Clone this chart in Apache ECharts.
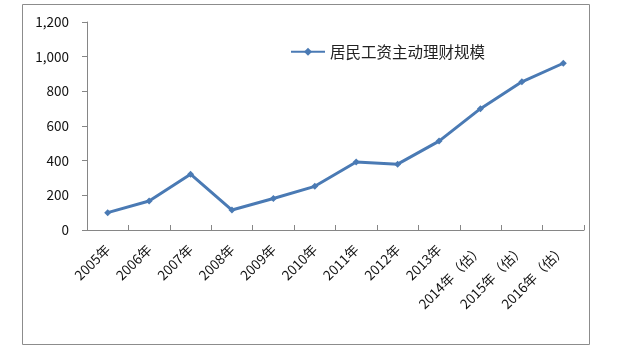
<!DOCTYPE html>
<html><head><meta charset="utf-8">
<script src="https://cdn.jsdelivr.net/npm/echarts@6/dist/echarts.min.js"></script>
<style>html,body{margin:0;padding:0;background:#fff}#c{width:640px;height:355px}</style>
</head><body><div id="c"></div>
<script>
var categories = ['2005年','2006年','2007年','2008年','2009年','2010年','2011年','2012年','2013年','2014年（估）','2015年（估）','2016年（估）'];
var values = [100, 167, 322, 115, 182, 252, 392, 380, 513, 700, 855, 962];
var seriesName = '居民工资主动理财规模';
var yTicks = [0, 200, 400, 600, 800, 1000, 1200];

var chart = echarts.init(document.getElementById('c'), null, {renderer:'canvas'});
var font = '"Noto Sans CJK SC", "Open Sans", sans-serif';
chart.setOption({
  animation: false,
  graphic: [{type:'rect', shape:{x:22.5,y:4.5,width:567,height:340}, style:{fill:'none', stroke:'#8c8c8c', lineWidth:1}, silent:true}],
  grid: {left:87, top:22, right:56, bottom:125, containLabel:false},
  legend: {
    data: [seriesName], left: 285, top: 39, itemWidth: 34, itemHeight: 10, itemGap: 2,
    textStyle: {fontSize: 15.5, color: '#222', fontFamily: font}
  },
  xAxis: {
    type: 'category', data: categories, boundaryGap: true,
    axisLine: {lineStyle: {color: '#868686', width: 1}},
    axisTick: {show: true, alignWithLabel: false, length: 5, inside: true, lineStyle: {color: '#868686'}},
    axisLabel: {rotate: 45, interval: 0, fontSize: 13.5, color: '#111', fontFamily: font, margin: 17}
  },
  yAxis: {
    type: 'value', min: yTicks[0], max: yTicks[yTicks.length-1], interval: 200,
    axisLine: {show: true, lineStyle: {color: '#868686', width: 1}},
    axisTick: {show: true, length: 5, lineStyle: {color: '#868686'}},
    splitLine: {show: false},
    axisLabel: {fontSize: 13.5, color: '#111', fontFamily: font, margin: 18,
      formatter: function(v){ return v.toLocaleString('en-US'); }}
  },
  series: [{
    name: seriesName, type: 'line', data: values,
    symbol: 'diamond', symbolSize: 7,
    lineStyle: {color: '#4a7ab4', width: 3},
    itemStyle: {color: '#4a7ab4'}
  }]
});
</script></body></html>
